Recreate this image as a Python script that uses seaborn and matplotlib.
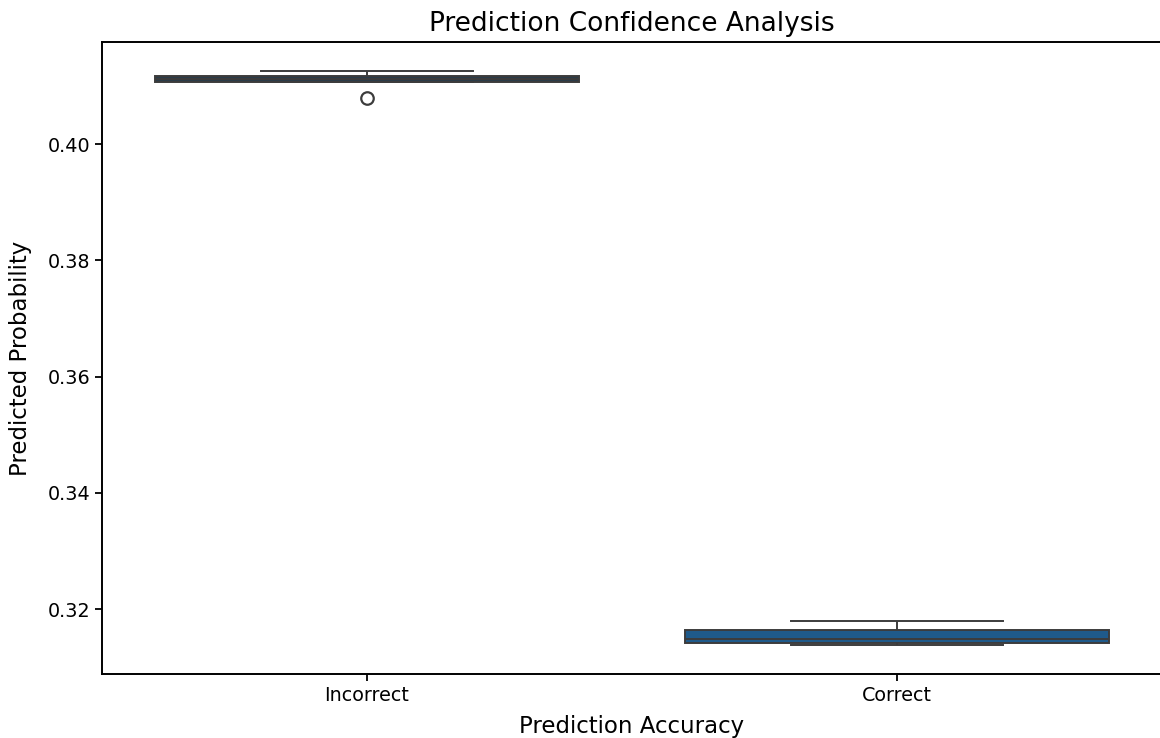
import matplotlib
matplotlib.use("Agg")
import matplotlib.pyplot as plt
import pandas as pd
import seaborn as sns

# Predicted probabilities grouped by whether the prediction was right
incorrect_probs = [0.40786, 0.41060, 0.41067, 0.41100, 0.41120,
                   0.41150, 0.41175, 0.41200, 0.41261]
correct_probs = [0.31381, 0.31410, 0.31424, 0.31450, 0.31493,
                 0.31560, 0.31639, 0.31700, 0.31799]
categories = ["Incorrect", "Correct"]
box_colors = ["#2a3b48", "#1f5a8a"]

df = pd.DataFrame({
    "Prediction Accuracy": [categories[0]] * len(incorrect_probs)
                           + [categories[1]] * len(correct_probs),
    "Predicted Probability": incorrect_probs + correct_probs,
})

plt.rcParams["font.family"] = ["DejaVu Sans"]
plt.rcParams["axes.linewidth"] = 1.4
fig = plt.figure(figsize=(11.6, 7.38), dpi=100)
ax = fig.add_axes([102 / 1160, 64 / 738, 1060 / 1160, 632 / 738])

sns.boxplot(
    data=df,
    x="Prediction Accuracy",
    y="Predicted Probability",
    hue="Prediction Accuracy",
    order=categories,
    hue_order=categories,
    palette=box_colors,
    saturation=1,
    legend=False,
    linewidth=1.4,
    linecolor="#3c3c3c",
    ax=ax,
    flierprops=dict(markersize=9, markeredgewidth=1.6),
)

ax.set_title("Prediction Confidence Analysis", fontsize=19, pad=8)
ax.set_xlabel("Prediction Accuracy", fontsize=16.5, labelpad=7)
ax.set_ylabel("Predicted Probability", fontsize=16.5, labelpad=11)
ax.tick_params(labelsize=13.8, length=5, width=1.3)

fig.savefig("out.png", dpi=100)
